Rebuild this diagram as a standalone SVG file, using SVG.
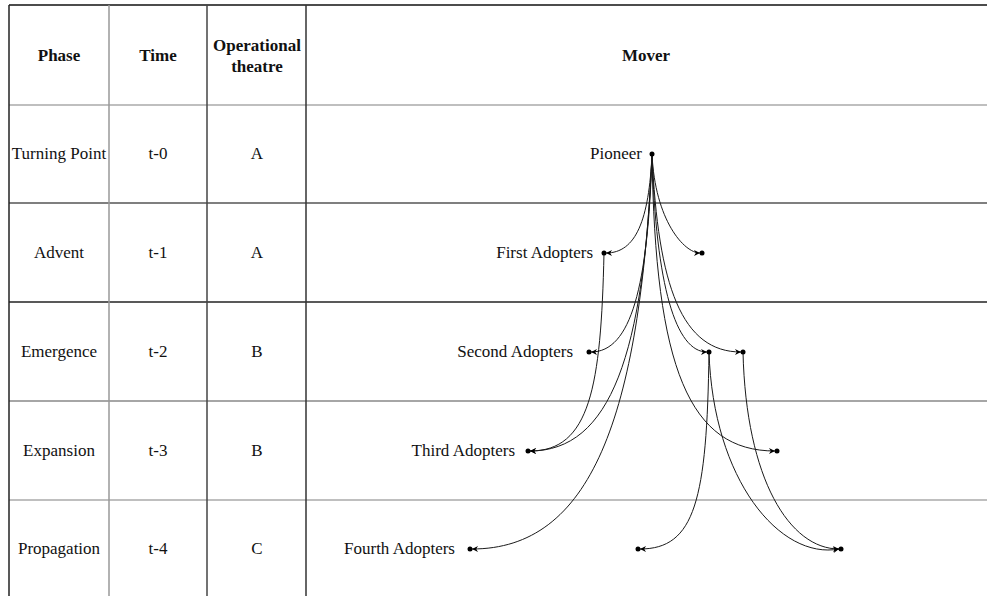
<svg xmlns="http://www.w3.org/2000/svg" width="987" height="596" viewBox="0 0 987 596">
<style>
.t{font-family:"Liberation Serif","Times New Roman",serif;font-size:17px;fill:#111}
.h{font-weight:bold}
.c{text-anchor:middle}
.e{text-anchor:end}
.grid{stroke-width:1.5;fill:none}
.conn path{fill:none;stroke:#1a1a1a;stroke-width:1;marker-end:url(#arr)}
.dot{fill:#000}
</style>
<defs>
<marker id="arr" viewBox="0 0 10 10" refX="10" refY="5" markerWidth="7" markerHeight="6" markerUnits="userSpaceOnUse" orient="auto">
<path d="M0,0 L10,5 L0,10 L3,5 z" fill="#000"/>
</marker>
</defs>
<rect width="987" height="596" fill="#fff"/>
<g id="table" class="grid">
<line x1="9" y1="5" x2="987" y2="5" stroke="#111"/>
<line x1="9" y1="105" x2="987" y2="105" stroke="#aaa"/>
<line x1="9" y1="203" x2="987" y2="203" stroke="#555"/>
<line x1="9" y1="302" x2="987" y2="302" stroke="#222"/>
<line x1="9" y1="401" x2="987" y2="401" stroke="#888"/>
<line x1="9" y1="500" x2="987" y2="500" stroke="#aaa"/>
<line x1="9" y1="5" x2="9" y2="596" stroke="#222"/>
<line x1="109" y1="5" x2="109" y2="596" stroke="#999"/>
<line x1="207" y1="5" x2="207" y2="596" stroke="#444"/>
<line x1="306" y1="5" x2="306" y2="596" stroke="#333"/>
</g>
<g id="headers">
<text class="t h c" x="59" y="61">Phase</text>
<text class="t h c" x="158" y="61">Time</text>
<text class="t h c" x="257" y="51">Operational</text>
<text class="t h c" x="257" y="72">theatre</text>
<text class="t h c" x="646" y="61">Mover</text>
</g>
<g id="rows">
<text class="t c" x="59" y="159">Turning Point</text>
<text class="t c" x="158" y="159">t-0</text>
<text class="t c" x="257" y="159">A</text>
<text class="t c" x="59" y="258">Advent</text>
<text class="t c" x="158" y="258">t-1</text>
<text class="t c" x="257" y="258">A</text>
<text class="t c" x="59" y="357">Emergence</text>
<text class="t c" x="158" y="357">t-2</text>
<text class="t c" x="257" y="357">B</text>
<text class="t c" x="59" y="456">Expansion</text>
<text class="t c" x="158" y="456">t-3</text>
<text class="t c" x="257" y="456">B</text>
<text class="t c" x="59" y="554">Propagation</text>
<text class="t c" x="158" y="554">t-4</text>
<text class="t c" x="257" y="554">C</text>
</g>
<g id="connectors" class="conn">
<path d="M652,154 C649,220 636,253 606,253"/>
<path d="M652,154 C655,220 684,253 700,253"/>
<path d="M652,154 C648,287 631,352 591,352"/>
<path d="M652,154 C656,287 676,352 707,352"/>
<path d="M652,154 C658,287 682,352 741,352"/>
<path d="M652,154 C644,353 611,451 530,451"/>
<path d="M604,253 C601,387 590,451 530,451"/>
<path d="M652,154 C655,370 690,451 775,451"/>
<path d="M652,154 C640,420 590,549 472,549"/>
<path d="M709,352 C707,500 695,549 640,549"/>
<path d="M709,352 C713,480 780,560 839,549"/>
<path d="M743,352 C746,480 790,549 839,549"/>
</g>
<g id="pioneer"><circle class="dot" cx="652" cy="154" r="2.5"/><text class="t e" x="642" y="159">Pioneer</text></g>
<g id="first-adopters"><circle class="dot" cx="604" cy="253" r="2.5"/><text class="t e" x="593" y="258">First Adopters</text></g>
<g id="a1-right"><circle class="dot" cx="702" cy="253" r="2.5"/></g>
<g id="second-adopters"><circle class="dot" cx="589" cy="352" r="2.5"/><text class="t e" x="573" y="357">Second Adopters</text></g>
<g id="a2-mid"><circle class="dot" cx="709" cy="352" r="2.5"/></g>
<g id="a2-right"><circle class="dot" cx="743" cy="352" r="2.5"/></g>
<g id="third-adopters"><circle class="dot" cx="528" cy="451" r="2.5"/><text class="t e" x="515" y="456">Third Adopters</text></g>
<g id="a3-right"><circle class="dot" cx="777" cy="451" r="2.5"/></g>
<g id="fourth-adopters"><circle class="dot" cx="470" cy="549" r="2.5"/><text class="t e" x="455" y="554">Fourth Adopters</text></g>
<g id="a4-mid"><circle class="dot" cx="638" cy="549" r="2.5"/></g>
<g id="a4-right"><circle class="dot" cx="841" cy="549" r="2.5"/></g>
</svg>
